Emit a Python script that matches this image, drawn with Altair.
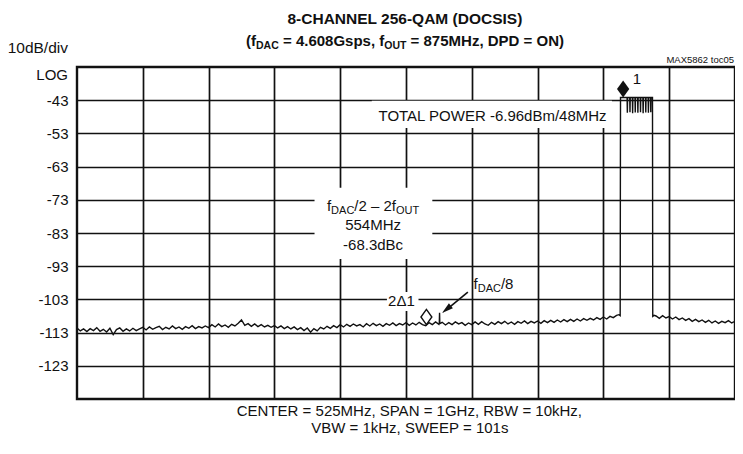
import altair as alt
import pandas as pd

# ---------------- chart values ----------------
F_DOMAIN = [25, 1025]          # CENTER 525 MHz, SPAN 1 GHz
DB_DOMAIN = [-133, -33]        # 10 dB/div, ref -33
X_GRID = [125, 225, 325, 425, 525, 625, 725, 825, 925]
Y_TICKS = [-43, -53, -63, -73, -83, -93, -103, -113, -123]

# noise floor left of the carrier (25 ... 845 MHz, 5 MHz steps)
noise_left_freq = list(range(25, 850, 5))
noise_left_level = [
    -111.6, -112.5, -111.9, -112.7, -111.8, -112.4, -111.5, -112.6, -112.0, -112.8,
    -111.7, -113.6, -112.1, -111.6, -112.6, -111.9, -112.5, -111.7, -112.4, -111.9,
    -111.4, -112.2, -111.3, -112.0, -111.5, -111.1, -112.1, -111.4, -111.9, -111.0,
    -111.8, -111.3, -112.0, -111.2, -111.7, -110.9, -111.8, -111.2, -111.6, -111.0,
    -111.5, -110.6, -111.3, -110.4, -111.2, -110.7, -111.4, -110.5, -111.0, -110.2,
    -109.2, -110.8, -110.3, -111.1, -110.4, -111.2, -110.6, -111.3, -110.8, -111.4,
    -110.9, -111.6, -111.0, -111.8, -111.2, -111.9, -111.3, -112.1, -111.5, -112.4,
    -111.6, -112.9, -111.8, -112.5, -111.4, -111.9, -111.1, -111.7, -110.9, -111.5,
    -110.6, -111.3, -110.5, -111.1, -110.4, -111.0, -110.6, -111.3, -110.3, -111.0,
    -110.2, -110.9, -110.4, -111.1, -110.3, -110.8, -110.1, -110.9, -110.3, -110.7,
    -110.0, -110.8, -110.1, -110.7, -109.9, -110.6, -110.9, -110.0, -110.6, -109.8,
    -110.5, -109.9, -110.7, -110.0, -110.6, -109.8, -110.4, -110.0, -110.8, -110.1,
    -110.6, -109.8, -110.5, -109.7, -110.4, -110.8, -109.9, -110.5, -109.7, -110.3,
    -109.6, -110.4, -109.8, -110.5, -109.7, -110.2, -109.5, -110.3, -109.6, -110.1,
    -109.5, -110.2, -109.4, -110.0, -109.3, -109.9, -109.2, -109.8, -109.1, -109.7,
    -109.0, -109.6, -108.9, -109.5, -108.8, -109.3, -108.7, -109.2, -108.5, -109.0,
    -108.3, -108.9, -108.1, -108.5, -107.8,
]

# fDAC/8 spur (576 MHz)
spur_freq = [575.6, 576.0, 576.4]
spur_level = [-110.2, -107.0, -110.3]

# 8-channel carrier block (851 ... 899 MHz)
carrier_freq = [848.5, 850.5, 851.0,
                861.0, 861.4, 861.8, 865.0, 865.4, 865.8, 869.0, 869.4, 869.8,
                873.0, 873.4, 873.8, 877.0, 877.4, 877.8, 881.0, 881.4, 881.8,
                885.0, 885.4, 885.8, 889.0, 889.4, 889.8, 893.0, 893.4, 893.8,
                896.6, 897.0, 897.4, 899.6, 900.0, 902.0]
carrier_level = [-107.6, -107.9, -42.2,
                 -42.2, -46.8, -42.2, -42.2, -46.6, -42.2, -42.2, -46.9, -42.2,
                 -42.2, -46.7, -42.2, -42.2, -46.8, -42.2, -42.2, -46.6, -42.2,
                 -42.2, -46.9, -42.2, -42.2, -46.7, -42.2, -42.2, -46.8, -42.2,
                 -42.2, -46.6, -42.2, -42.2, -108.1, -107.8]

# noise floor right of the carrier (905 ... 1025 MHz)
noise_right_freq = list(range(905, 1030, 5))
noise_right_level = [
    -108.0, -108.7, -107.9, -108.6, -108.2, -108.9, -108.3, -109.1, -108.6, -109.3,
    -108.8, -109.6, -109.0, -109.7, -109.2, -109.9, -109.3, -110.1, -109.5, -110.2,
    -109.6, -110.0, -109.4, -110.1, -109.6,
]

# markers: 1 = carrier (filled), 2 = delta marker at 554 MHz (open)
marker_freq = [855, 556]
marker_level = [-39.6, -108.3]

# ---------------- layout helpers ----------------
W, H = 658, 332
PX_PER_MHZ = W / (F_DOMAIN[1] - F_DOMAIN[0])
PX_PER_DB = H / (DB_DOMAIN[1] - DB_DOMAIN[0])
FONT = "Liberation Sans, Arial, Helvetica, sans-serif"
INK = "#111111"

REG = {' ': 278, '(': 333, ')': 333, ',': 278, '-': 333, '.': 278, '/': 278, '=': 584,
       'A': 667, 'B': 667, 'C': 722, 'D': 722, 'E': 667, 'G': 778, 'H': 722, 'I': 278,
       'L': 556, 'M': 833, 'N': 722, 'O': 778, 'P': 667, 'Q': 778, 'R': 722, 'S': 667,
       'T': 611, 'U': 722, 'V': 667, 'W': 944, 'X': 667, 'a': 556, 'b': 556, 'c': 500,
       'd': 556, 'e': 556, 'f': 278, 'i': 222, 'k': 500, 'm': 833, 'o': 556, 'p': 556,
       's': 500, 't': 278, 'v': 500, 'z': 500, '\u2013': 556, '\u0394': 668}
BOLD = {' ': 278, '(': 333, ')': 333, ',': 278, '-': 333, '.': 278, '/': 278, '=': 584,
        'A': 722, 'C': 722, 'D': 722, 'E': 667, 'G': 778, 'H': 722, 'I': 278, 'L': 611,
        'M': 833, 'N': 722, 'O': 778, 'P': 667, 'Q': 778, 'S': 667, 'T': 611, 'U': 722,
        'f': 333, 's': 556, 'p': 611, 'z': 500}


def tw(s, size, bold):
    tab = BOLD if bold else REG
    return sum(tab.get(ch, 556) for ch in s) * size / 1000.0


def place(pieces, f, db, anchor="center", bold=False):
    """pieces: (text, size, sub); f/db = visual centre (or edge) of the line."""
    main = max(p[1] for p in pieces)
    total = sum(tw(t, s, bold) for t, s, _ in pieces)
    x = {"left": 0.0, "center": -total / 2.0, "right": -total}[anchor]
    base_px = 0.36 * main
    rows = []
    for t, s, sub in pieces:
        lead = len(t) - len(t.lstrip(" "))
        x_txt = x + tw(" " * lead, s, bold)      # SVG drops leading blanks
        off = base_px + (3.5 if sub else 0.0)
        rows.append(dict(f=f + x_txt / PX_PER_MHZ, db=db - off / PX_PER_DB,
                         text=t.strip(" "), size=s, bold=bold))
        x += tw(t, s, bold)
    return rows


texts = []
texts += place([("8-CHANNEL 256-QAM (DOCSIS)", 15.5, False)], 523.5, -18.3, bold=True)
texts += place([("(f", 15, False), ("DAC", 10.5, True), (" = 4.608Gsps, f", 15, False),
                ("OUT", 10.5, True), (" = 875MHz, DPD = ON)", 15, False)], 523.5, -24.9,
               bold=True)
texts += place([("10dB/div", 15.5, False)], 11.3, -27.0, anchor="right")
texts += place([("LOG", 15, False)], 11.3, -35.4, anchor="right")
texts += place([("MAX5862 toc05", 9.5, False)], 1023.5, -30.9, anchor="right")
texts += place([("TOTAL POWER -6.96dBm/48MHz", 15, False)], 658, -47.5)
texts += place([("f", 15, False), ("DAC", 11, True), ("/2 \u2013 2f", 15, False),
                ("OUT", 11, True)], 475, -74.6)
texts += place([("554MHz", 15, False)], 475, -80.6)
texts += place([("-68.3dBc", 15, False)], 475, -86.6)
texts += place([("2\u03941", 15, False)], 518, -103.5)
texts += place([("f", 15, False), ("DAC", 11, True), ("/8", 15, False)], 658, -98.1)
texts += place([("1", 15, False)], 876, -36.6)
texts += place([("CENTER = 525MHz, SPAN = 1GHz, RBW = 10kHz,", 15, False)], 531, -136.5)
texts += place([("VBW = 1kHz, SWEEP = 101s", 15, False)], 531, -141.7)
text_df = pd.DataFrame(texts)

# white label boxes (MHz / dB)
boxes = pd.DataFrame(dict(f=[473, 386, 496], f2=[838, 565, 544],
                          db=[-43.2, -69.4, -100.8], db2=[-51.4, -90.8, -106.5]))
# arrow pointing at the fDAC/8 spur
arrow = pd.DataFrame(dict(f=[619], db=[-100.8], f2=[589], db2=[-105.7]))
arrow_head = pd.DataFrame(dict(f=[586.5], db=[-106.0]))

trace = pd.DataFrame(dict(
    f=noise_left_freq + spur_freq + carrier_freq + noise_right_freq,
    db=noise_left_level + spur_level + carrier_level + noise_right_level,
)).sort_values("f")
markers = pd.DataFrame(dict(f=marker_freq, db=marker_level, kind=["filled", "open"]))

# ---------------- encodings ----------------
X = alt.X("f:Q", scale=alt.Scale(domain=F_DOMAIN, nice=False, zero=False),
          axis=alt.Axis(values=X_GRID, grid=True, labels=False, ticks=False, domain=False,
                        title=None, gridColor=INK, gridWidth=1.7, gridOpacity=1))
Y = alt.Y("db:Q", scale=alt.Scale(domain=DB_DOMAIN, nice=False, zero=False),
          axis=alt.Axis(values=Y_TICKS, grid=True, ticks=False, domain=False, title=None,
                        gridColor=INK, gridWidth=1.7, gridOpacity=1, labelFontSize=15,
                        labelColor=INK, labelFont=FONT, labelPadding=9,
                        labelExpr="toString(datum.value)"))

box_layer = alt.Chart(boxes).mark_rect(color="white", opacity=1).encode(
    x=X, x2="f2:Q", y=Y, y2="db2:Q")
line_layer = alt.Chart(trace).mark_line(color=INK, strokeWidth=1.4, interpolate="linear").encode(
    x=X, y=Y, order="f:Q")
DIAMOND = "M0,-1L0.72,0L0,1L-0.72,0Z"
m_filled = alt.Chart(markers).transform_filter("datum.kind == 'filled'").mark_point(
    shape=DIAMOND, filled=True, color=INK, size=290, opacity=1).encode(x=X, y=Y)
m_open = alt.Chart(markers).transform_filter("datum.kind == 'open'").mark_point(
    shape=DIAMOND, filled=True, fill="white", stroke=INK, strokeWidth=1.4, size=230,
    opacity=1).encode(x=X, y=Y)
arrow_layer = alt.Chart(arrow).mark_rule(color=INK, strokeWidth=1.6).encode(
    x=X, y=Y, x2="f2:Q", y2="db2:Q")
head_layer = alt.Chart(arrow_head).mark_point(
    shape="M0,-1L0.55,1L-0.55,1Z", filled=True, color=INK, size=130, angle=231,
    opacity=1).encode(x=X, y=Y)
text_reg = alt.Chart(text_df).transform_filter("!datum.bold").mark_text(
    align="left", baseline="alphabetic", font=FONT, color=INK).encode(
    x=X, y=Y, text="text:N", size=alt.Size("size:Q", scale=None, legend=None))
text_bold = alt.Chart(text_df).transform_filter("datum.bold").mark_text(
    align="left", baseline="alphabetic", font=FONT, color=INK, fontWeight="bold").encode(
    x=X, y=Y, text="text:N", size=alt.Size("size:Q", scale=None, legend=None))

chart = alt.layer(
    box_layer, line_layer, arrow_layer, head_layer, m_filled, m_open, text_reg, text_bold
).properties(
    width=W, height=H, autosize="none",
    padding={"left": 69, "top": 59, "right": 0, "bottom": 38},
    background="white",
).configure_view(stroke=INK, strokeWidth=2.4)

chart.save("out.html", embed_options={"renderer": "svg", "actions": False})
